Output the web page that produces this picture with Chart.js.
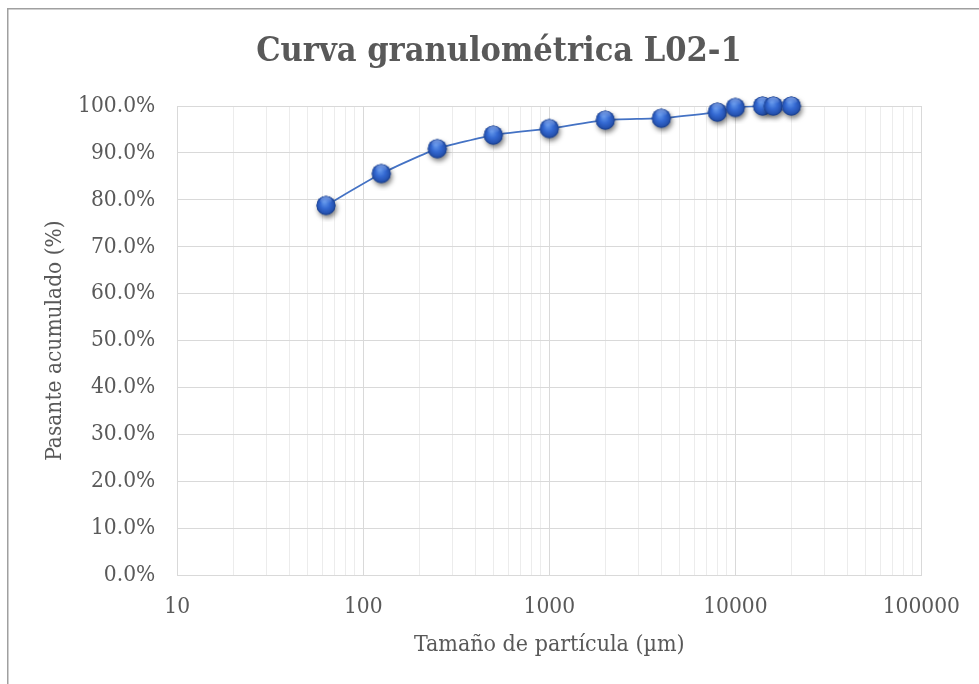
<!DOCTYPE html>
<html>
<head>
<meta charset="utf-8">
<script src="https://cdn.jsdelivr.net/npm/chart.js@4/dist/chart.umd.min.js"></script>
<style>
  html, body { margin: 0; padding: 0; background: #fff; }
  #wrap { position: relative; width: 979px; height: 684px; }
</style>
</head>
<body>
<div id="wrap"><canvas id="c" width="979" height="684"></canvas></div>
<script>
// particle size (µm) and cumulative passing (%)
const sizes = [ 63, 125, 250, 500, 1000, 2000, 4000, 8000, 10000, 14000, 16000, 20000 ]
const passing = [ 78.8, 85.6, 90.9, 93.8, 95.2, 97.0, 97.4, 98.7, 99.7, 100, 100, 100 ]

const decades = [ 10, 100, 1000, 10000, 100000 ]
const yTicks = [ 0, 10, 20, 30, 40, 50, 60, 70, 80, 90, 100 ]

const chartTitle = 'Curva granulométrica L02-1'
const xTitle = 'Tamaño de partícula (µm)'
const yTitle = 'Pasante acumulado (%)'

const FONT = '"DejaVu Serif Condensed", "Liberation Serif", serif'
const TEXT = '#595959'

// glossy sphere marker, like the Excel preset
function sphere() {
   const s = 34
   const c = document.createElement( 'canvas' )
   c.width = s
   c.height = s
   const ctx = c.getContext( '2d' )
   const cx = s / 2, cy = s / 2, r = 9.5

   // soft drop shadow
   ctx.save()
   ctx.shadowColor = 'rgba(0,0,0,0.5)'
   ctx.shadowBlur = 5
   ctx.shadowOffsetX = 1.5
   ctx.shadowOffsetY = 3
   ctx.fillStyle = '#1f4a9e'
   ctx.beginPath()
   ctx.arc( cx, cy, r, 0, Math.PI * 2 )
   ctx.fill()
   ctx.restore()

   // body
   const g = ctx.createRadialGradient( cx - 1.5, cy - 3, 1, cx, cy, r )
   g.addColorStop( 0, '#5b90e8' )
   g.addColorStop( 0.45, '#3469d2' )
   g.addColorStop( 0.85, '#2552b0' )
   g.addColorStop( 1, '#183c88' )
   ctx.fillStyle = g
   ctx.beginPath()
   ctx.arc( cx, cy, r, 0, Math.PI * 2 )
   ctx.fill()

   // top highlight
   const h = ctx.createLinearGradient( 0, cy - r, 0, cy - 2 )
   h.addColorStop( 0, 'rgba(200,220,255,0.55)' )
   h.addColorStop( 1, 'rgba(200,220,255,0)' )
   ctx.fillStyle = h
   ctx.beginPath()
   ctx.ellipse( cx, cy - r / 2, r * 0.6, r * 0.42, 0, 0, Math.PI * 2 )
   ctx.fill()
   return c
}

const isDecade = ( v ) => decades.includes( v )

const extras = {
   id: 'excel_bits',
   beforeDraw( chart ) {
      const { ctx } = chart
      ctx.save()
      ctx.fillStyle = '#fff'
      ctx.fillRect( 0, 0, chart.width, chart.height )
      ctx.strokeStyle = '#a0a0a0'
      ctx.lineWidth = 1.5
      ctx.strokeRect( 7.75, 8.75, chart.width + 20, chart.height + 20 )
      ctx.restore()
   },
   afterDraw( chart ) {
      const { ctx } = chart
      ctx.save()
      ctx.fillStyle = TEXT
      ctx.font = `bold 34px ${FONT}`
      ctx.textAlign = 'center'
      ctx.textBaseline = 'middle'
      ctx.fillText( chartTitle, 499, 52 )
      ctx.restore()
   },
}

new Chart( document.getElementById( 'c' ), {
   type: 'scatter',
   plugins: [ extras ],
   data: {
      datasets: [ {
         data: sizes.map( ( s, i ) => ( { x: s, y: passing[ i ] } ) ),
         showLine: true,
         borderColor: '#4472C4',
         borderWidth: 1.75,
         tension: 0.15,
         pointStyle: sphere(),
         pointRadius: 10,
         clip: false,
      } ],
   },
   options: {
      responsive: false,
      animation: false,
      events: [],
      layout: {
         padding: { top: 106, right: 56.5, left: 0, bottom: 0 },
      },
      plugins: {
         legend: { display: false },
         tooltip: { enabled: false },
         title: { display: false },
      },
      scales: {
         x: {
            type: 'logarithmic',
            min: 10,
            max: 100000,
            afterBuildTicks( scale ) {
               const t = []
               decades.forEach( ( d, i ) => {
                  if ( i === decades.length - 1 ) {
                     t.push( { value: d } )
                     return
                  }
                  for ( let k = 1; k < 10; k++ ) t.push( { value: d * k } )
               } )
               scale.ticks = t
            },
            afterFit( scale ) {
               scale.height = 109
            },
            ticks: {
               autoSkip: false,
               maxRotation: 0,
               padding: 19,
               color: TEXT,
               font: { family: FONT, size: 22.5 },
               callback: ( v ) => ( isDecade( v ) ? String( v ) : '' ),
            },
            grid: {
               drawTicks: false,
               color: ( c ) => ( c.tick && isDecade( c.tick.value ) ? '#d9d9d9' : '#ececec' ),
            },
            border: { color: '#d9d9d9' },
            title: {
               display: true,
               text: xTitle,
               color: TEXT,
               font: { family: FONT, size: 23 },
               padding: { top: 0, bottom: 25 },
            },
         },
         y: {
            min: 0,
            max: 100,
            afterBuildTicks( scale ) {
               scale.ticks = yTicks.map( ( v ) => ( { value: v } ) )
            },
            afterFit( scale ) {
               scale.width = 177.25
            },
            ticks: {
               padding: 22,
               color: TEXT,
               font: { family: FONT, size: 22.5 },
               callback: ( v ) => v.toFixed( 1 ) + '%',
            },
            grid: {
               drawTicks: false,
               color: '#d9d9d9',
            },
            border: { color: '#d9d9d9' },
            title: {
               display: true,
               text: yTitle,
               color: TEXT,
               font: { family: FONT, size: 22.5 },
               padding: { top: 42, bottom: 0 },
            },
         },
      },
   },
} )
</script>
</body>
</html>
